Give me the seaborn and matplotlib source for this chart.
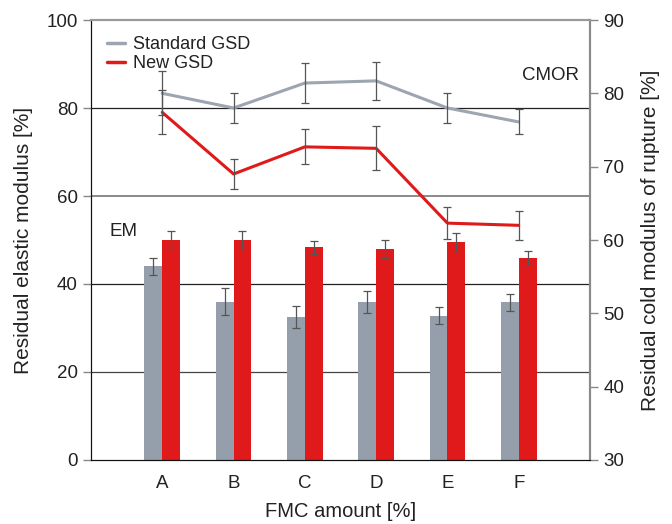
import numpy as np
import pandas as pd
import matplotlib
matplotlib.use("Agg")
import matplotlib.pyplot as plt
from matplotlib.lines import Line2D
import seaborn as sns

# FMC amount categories
categories = ["A", "B", "C", "D", "E", "F"]

# Residual elastic modulus (EM), left axis [%]
em_standard = [44.0, 36.0, 32.5, 35.8, 32.8, 35.8]
em_standard_err = [2.0, 3.0, 2.5, 2.5, 2.0, 2.0]
em_new = [50.0, 50.0, 48.3, 48.0, 49.5, 46.0]
em_new_err = [2.0, 2.0, 1.5, 2.0, 2.0, 1.6]

# Residual cold modulus of rupture (CMOR), right axis [%]
cmor_standard = [80.0, 78.0, 81.4, 81.7, 78.0, 76.1]
cmor_standard_err = [3.0, 2.1, 2.7, 2.6, 2.0, 1.7]
cmor_new = [77.4, 69.0, 72.7, 72.5, 62.3, 62.0]
cmor_new_err = [3.0, 2.0, 2.4, 3.0, 2.2, 2.0]

series_names = ["Standard GSD", "New GSD"]
gray_bar = "#959fab"
gray_line = "#9ca5b0"
red = "#e01a1a"
err_color = "#555555"

sns.set_style("white")
plt.rcParams["font.family"] = ["Liberation Sans", "DejaVu Sans"]

fig = plt.figure(figsize=(6.72, 5.24), dpi=100)
ax = fig.add_axes([91 / 672, 64 / 524, 499 / 672, 440 / 524])

em_df = pd.DataFrame({
    "FMC": categories * 2,
    "EM": em_standard + em_new,
    "err": em_standard_err + em_new_err,
    "grade": [series_names[0]] * 6 + [series_names[1]] * 6,
})

# horizontal reference lines behind the bars
for yv, col, lw in [(80, "#222222", 0.9), (60, "#8a8a8a", 1.4), (40, "#222222", 0.9), (20, "#444444", 0.9)]:
    ax.axhline(yv, color=col, lw=lw, zorder=0)

sns.barplot(data=em_df, x="FMC", y="EM", hue="grade", order=categories,
            hue_order=series_names, palette=[gray_bar, red], saturation=1,
            width=0.5, gap=0, errorbar=None, legend=False, ax=ax, zorder=2,
            linewidth=0)

# error bars on top of each bar
for container, errs in zip(ax.containers, [em_standard_err, em_new_err]):
    for patch, e in zip(container.patches, errs):
        xc = patch.get_x() + patch.get_width() / 2
        ax.errorbar(xc, patch.get_height(), yerr=e, color=err_color, lw=0.9,
                    capsize=3, capthick=0.9, zorder=3)

ax.set_xlim(-1, 6)
ax.set_ylim(0, 100)
ax.set_yticks([0, 20, 40, 60, 80, 100])
ax.set_xticks(range(-1, 7))
ax.set_xticklabels([""] + categories + [""])
ax.set_xlabel("FMC amount [%]", fontsize=14.5, color="#222222", labelpad=7)
ax.set_ylabel("Residual elastic modulus [%]", fontsize=15, color="#222222", labelpad=10)
ax.tick_params(axis="both", labelsize=13.5, colors="#222222", length=6, width=1, direction="out")
ax.tick_params(axis="x", pad=5)
ax.tick_params(axis="y", which="both", color="#888888")

# CMOR lines on the secondary axis
ax2 = ax.twinx()
pos = np.arange(len(categories))
cmor_df = pd.DataFrame({
    "pos": np.concatenate([pos, pos]),
    "CMOR": cmor_standard + cmor_new,
    "grade": [series_names[0]] * 6 + [series_names[1]] * 6,
})
sns.lineplot(data=cmor_df, x="pos", y="CMOR", hue="grade", hue_order=series_names,
             palette=[gray_line, red], linewidth=2.2, legend=False, ax=ax2, zorder=4)
for vals, errs in [(cmor_standard, cmor_standard_err), (cmor_new, cmor_new_err)]:
    ax2.errorbar(pos, vals, yerr=errs, fmt="none", ecolor=err_color, elinewidth=0.9,
                 capsize=3, capthick=0.9, zorder=5)
ax2.set_ylim(30, 90)
ax2.set_yticks([30, 40, 50, 60, 70, 80, 90])
ax2.set_ylabel("Residual cold modulus of rupture [%]", fontsize=15, color="#222222", labelpad=12)
ax2.tick_params(axis="y", labelsize=13.5, labelcolor="#222222", color="#888888", length=6, width=1, direction="out")
ax2.set_xlim(-1, 6)

for a in (ax, ax2):
    a.spines["left"].set_color("#111111")
    a.spines["bottom"].set_color("#111111")
    a.spines["top"].set_color("#999999")
    a.spines["top"].set_linewidth(1.5)
    a.spines["right"].set_color("#8a8a8a")
    a.spines["right"].set_linewidth(1.5)
ax.tick_params(axis="x", color="#111111")

ax2.text(5.44, 82.5, "CMOR", fontsize=13.5, color="#222222", ha="center", va="center")
ax.text(-0.55, 52, "EM", fontsize=13.5, color="#222222", ha="center", va="center")

handles = [Line2D([], [], color=gray_line, lw=2.5), Line2D([], [], color=red, lw=2.5)]
ax2.legend(handles, series_names, loc="upper left", bbox_to_anchor=(0.0, 1.0),
           frameon=False, fontsize=13, handlelength=1.0, handletextpad=0.4,
           labelspacing=0.1, borderaxespad=0.5, labelcolor="#222222")

fig.savefig("out.png", dpi=100)
